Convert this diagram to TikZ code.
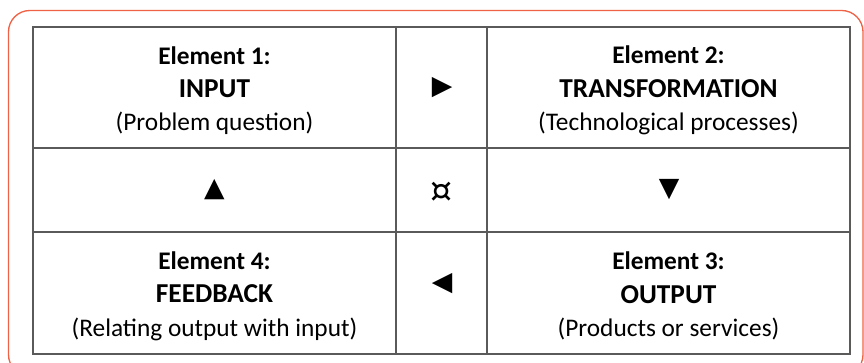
\documentclass[tikz,border=0pt]{standalone}
\usepackage{fontspec}
\setmainfont{Carlito}
\newfontfamily\symfont{DejaVu Sans}
\usetikzlibrary{positioning}
\definecolor{framered}{RGB}{240,98,70}
\definecolor{gridgray}{RGB}{90,90,90}
\newcommand{\keyword}[1]{{\fontsize{20.5}{25}\selectfont\textbf{#1}}}

\begin{document}
\begin{tikzpicture}[% one unit = one pixel of the page
         x = 0.75pt, y = -0.75pt,
cell/.style args = {#1/#2}{draw=gridgray, line width=1.1pt,
              minimum width=#1, minimum height=#2,
              inner sep=0pt, outer sep=0pt},
txt/.style = {align=center, inner sep=0pt,
              font=\fontsize{19}{25}\selectfont},
sym/.style = {inner sep=0pt, font=\symfont\fontsize{#1}{#1}\selectfont},
sym/.default = 20
                        ]
	% page and frame
	\useasboundingbox (0,0) rectangle (864,363);
	\clip (0,0) rectangle (864,363);
	\draw[framered, line width=1pt, rounded corners=16pt] (8.5,10.5) rectangle (863,376);

	% grid of cells
	\node[cell=272.25pt/90.75pt] (input) at (214.5,87.5) {};
	\node[cell=68.25pt/90.75pt] (toptr) at (441.5,87.5) {};
	\node[cell=272.25pt/90.75pt] (transf) at (668.5,87.5) {};
	\node[cell=272.25pt/63pt] (leftmid) at (214.5,190) {};
	\node[cell=68.25pt/63pt] (center) at (441.5,190) {};
	\node[cell=272.25pt/63pt] (rightmid) at (668.5,190) {};
	\node[cell=272.25pt/91.5pt] (feedback) at (214.5,293) {};
	\node[cell=68.25pt/91.5pt] (botfb) at (441.5,293) {};
	\node[cell=272.25pt/91.5pt] (output) at (668.5,293) {};

	% the four elements
	\node[txt] (input-t) at (214.5,90.5)
		{\textbf{Element 1:}\\ \keyword{INPUT}\\ (Problem question)};
	\node[txt] (transf-t) at (668.5,90.5)
		{\textbf{Element 2:}\\ \keyword{TRANSFORMATION}\\ (Technological processes)};
	\node[txt] (feedback-t) at (214.5,296)
		{\textbf{Element 4:}\\ \keyword{FEEDBACK}\\ (Relating output with input)};
	\node[txt] (output-t) at (668.5,296)
		{\textbf{Element 3:}\\ \keyword{OUTPUT}\\ (Products or services)};

	% flow marks
	\node[sym] (tofwd) at (442,87.5) {▶};
	\node[sym] (toup) at (214.5,190) {▲};
	\node[sym=26] (hub) at (441.5,192) {¤};
	\node[sym] (todown) at (669,189.5) {▼};
	\node[sym] (toback) at (442,283.5) {◀};
\end{tikzpicture}
\end{document}
